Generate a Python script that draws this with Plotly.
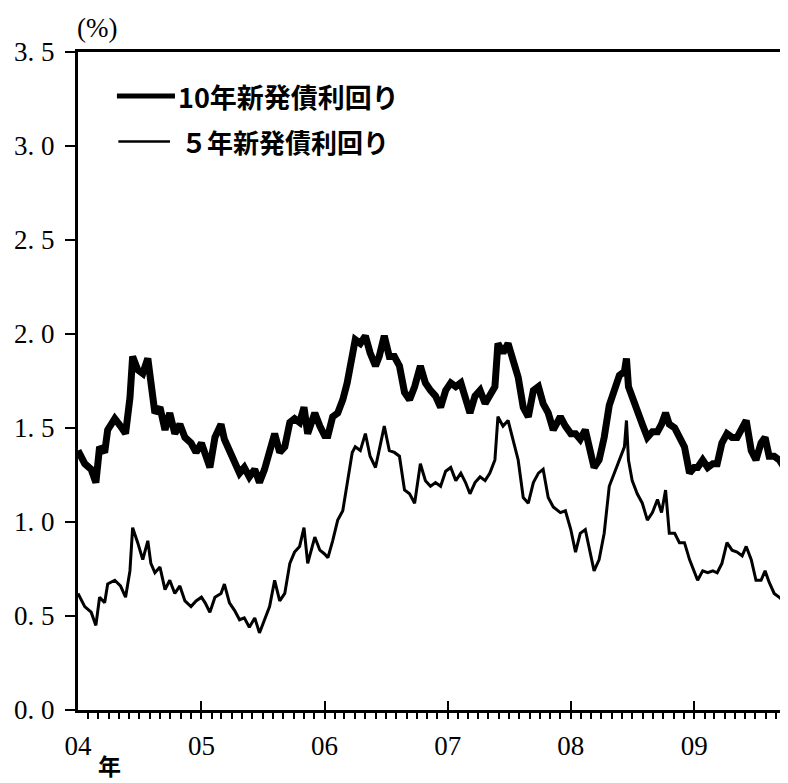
import plotly.graph_objects as go

# semi-monthly readings of the chart (JGB yields, %)
dates = [
    "2004-01-01", "2004-01-21", "2004-02-09", "2004-02-23", "2004-03-05", "2004-03-20",
    "2004-03-29", "2004-04-19", "2004-05-06", "2004-05-21", "2004-06-03", "2004-06-11",
    "2004-06-26", "2004-07-11", "2004-07-26", "2004-08-04", "2004-08-16", "2004-08-31",
    "2004-09-15", "2004-09-29", "2004-10-14", "2004-10-29", "2004-11-13", "2004-12-01",
    "2004-12-16",
    "2005-01-01", "2005-01-12", "2005-01-26", "2005-02-10", "2005-02-28", "2005-03-10",
    "2005-03-25", "2005-04-09", "2005-04-24", "2005-05-08", "2005-05-23", "2005-06-08",
    "2005-06-22", "2005-07-07", "2005-07-22", "2005-08-06", "2005-08-21", "2005-09-05",
    "2005-09-20", "2005-10-04", "2005-10-19", "2005-11-01", "2005-11-12", "2005-12-03",
    "2005-12-18",
    "2006-01-01", "2006-01-11", "2006-01-25", "2006-02-09", "2006-02-24", "2006-03-09",
    "2006-03-24", "2006-04-02", "2006-04-17", "2006-05-02", "2006-05-16", "2006-06-01",
    "2006-06-12", "2006-06-27", "2006-07-12", "2006-07-27", "2006-08-11", "2006-08-26",
    "2006-09-10", "2006-09-25", "2006-10-12", "2006-10-27", "2006-11-11", "2006-11-26",
    "2006-12-11", "2006-12-26",
    "2007-01-10", "2007-01-25", "2007-02-09", "2007-02-23", "2007-03-08", "2007-03-23",
    "2007-04-07", "2007-04-22", "2007-05-06", "2007-05-21", "2007-05-30", "2007-06-14",
    "2007-06-29", "2007-07-14", "2007-07-29", "2007-08-13", "2007-08-28", "2007-09-12",
    "2007-09-27", "2007-10-11", "2007-10-26", "2007-11-10", "2007-12-01", "2007-12-16",
    "2008-01-01", "2008-01-15", "2008-01-29", "2008-02-13", "2008-02-28", "2008-03-10",
    "2008-03-25", "2008-04-09", "2008-04-24", "2008-05-09", "2008-05-24", "2008-06-08",
    "2008-06-14", "2008-06-20", "2008-07-01", "2008-07-16", "2008-07-31", "2008-08-15",
    "2008-08-30", "2008-09-14", "2008-09-26", "2008-10-08", "2008-10-19", "2008-11-04",
    "2008-11-18", "2008-12-03", "2008-12-18",
    "2009-01-01", "2009-01-11", "2009-01-26", "2009-02-10", "2009-02-25", "2009-03-10",
    "2009-03-24", "2009-04-08", "2009-04-23", "2009-05-08", "2009-05-23", "2009-06-04",
    "2009-06-19", "2009-07-03", "2009-07-18", "2009-07-30", "2009-08-11", "2009-08-26",
    "2009-09-10", "2009-09-28",
]

yield_10y = [
    1.38, 1.31, 1.28, 1.21, 1.40, 1.37, 1.49, 1.55, 1.51, 1.47, 1.66, 1.88,
    1.81, 1.79, 1.87, 1.72, 1.58, 1.61, 1.49, 1.58, 1.47, 1.52, 1.45, 1.42,
    1.37,
    1.42, 1.37, 1.29, 1.45, 1.52, 1.44, 1.38, 1.33, 1.26, 1.29, 1.24, 1.28,
    1.21, 1.28, 1.37, 1.47, 1.37, 1.40, 1.53, 1.55, 1.53, 1.61, 1.47, 1.58,
    1.51,
    1.46, 1.46, 1.56, 1.58, 1.65, 1.74, 1.88, 1.97, 1.95, 1.99, 1.90, 1.83,
    1.88, 1.99, 1.88, 1.88, 1.83, 1.69, 1.65, 1.72, 1.83, 1.74, 1.70, 1.67,
    1.61, 1.70,
    1.74, 1.72, 1.74, 1.65, 1.58, 1.67, 1.70, 1.63, 1.67, 1.72, 1.95, 1.90,
    1.95, 1.86, 1.77, 1.61, 1.56, 1.70, 1.72, 1.63, 1.58, 1.49, 1.56, 1.51,
    1.47, 1.47, 1.44, 1.49, 1.38, 1.29, 1.33, 1.45, 1.62, 1.70, 1.78, 1.80,
    1.87, 1.72, 1.66, 1.60, 1.52, 1.45, 1.48, 1.48, 1.52, 1.58, 1.52, 1.50,
    1.45, 1.40, 1.26,
    1.29, 1.29, 1.33, 1.29, 1.31, 1.31, 1.42, 1.47, 1.45, 1.45, 1.51, 1.54,
    1.38, 1.33, 1.42, 1.45, 1.35, 1.35, 1.33, 1.28,
]

yield_5y = [
    0.62, 0.55, 0.52, 0.45, 0.60, 0.57, 0.67, 0.69, 0.66, 0.60, 0.74, 0.97,
    0.89, 0.80, 0.90, 0.78, 0.73, 0.76, 0.64, 0.69, 0.62, 0.66, 0.58, 0.55,
    0.58,
    0.60, 0.57, 0.52, 0.60, 0.62, 0.67, 0.57, 0.53, 0.48, 0.49, 0.44, 0.49,
    0.41, 0.48, 0.55, 0.69, 0.58, 0.62, 0.78, 0.84, 0.87, 0.97, 0.78, 0.92,
    0.85,
    0.83, 0.81, 0.90, 1.01, 1.06, 1.21, 1.37, 1.40, 1.38, 1.47, 1.35, 1.29,
    1.38, 1.51, 1.38, 1.37, 1.35, 1.17, 1.15, 1.10, 1.31, 1.22, 1.19, 1.21,
    1.19, 1.27,
    1.29, 1.22, 1.26, 1.21, 1.15, 1.21, 1.24, 1.22, 1.26, 1.33, 1.56, 1.51,
    1.54, 1.44, 1.33, 1.13, 1.10, 1.21, 1.26, 1.28, 1.13, 1.08, 1.05, 1.06,
    0.96, 0.84, 0.94, 0.96, 0.84, 0.74, 0.80, 0.94, 1.19, 1.26, 1.33, 1.40,
    1.54, 1.33, 1.22, 1.15, 1.10, 1.01, 1.05, 1.12, 1.05, 1.17, 0.94, 0.94,
    0.89, 0.89, 0.80,
    0.73, 0.69, 0.74, 0.73, 0.74, 0.73, 0.78, 0.89, 0.85, 0.84, 0.82, 0.87,
    0.80, 0.69, 0.69, 0.74, 0.68, 0.62, 0.60, 0.57,
]

y_ticks = [0, 0.5, 1.0, 1.5, 2.0, 2.5, 3.0, 3.5]
y_labels = ["0. 0", "0. 5", "1. 0", "1. 5", "2. 0", "2. 5", "3. 0", "3. 5"]
year_ticks = ["2004-01-01", "2005-01-01", "2006-01-01", "2007-01-01", "2008-01-01", "2009-01-01"]
year_labels = ["04", "05", "06", "07", "08", "09"]

serif = "Liberation Serif"
jp = "Noto Sans CJK JP"

fig = go.Figure()
fig.add_trace(go.Scatter(x=dates, y=yield_5y, mode="lines", name="5年新発債利回り",
                         line=dict(color="black", width=3)))
fig.add_trace(go.Scatter(x=dates, y=yield_10y, mode="lines", name="10年新発債利回り",
                         line=dict(color="black", width=7)))

fig.update_xaxes(
    range=["2004-01-01", "2009-09-30"],
    tickvals=year_ticks, ticktext=year_labels,
    ticks="inside", ticklen=9, tickwidth=2, tickcolor="black",
    minor=dict(ticks="outside", dtick="M1", tick0="2004-01-01", ticklen=6, tickwidth=2, tickcolor="black"),
    showline=True, linewidth=3, linecolor="black", mirror=True,
    showgrid=False, zeroline=False,
    tickfont=dict(family=serif, size=27, color="black"),
    ticklabelstandoff=10,
)
fig.update_yaxes(
    range=[0, 3.5],
    tickvals=y_ticks, ticktext=y_labels,
    ticks="outside", ticklen=10, tickwidth=2, tickcolor="black",
    showline=True, linewidth=3, linecolor="black",
    showgrid=False, zeroline=False,
    tickfont=dict(family=serif, size=27, color="black"),
    ticklabelstandoff=5,
)

# right border (faint) and legend drawn by hand
fig.add_shape(type="line", xref="paper", yref="paper", x0=1, x1=1, y0=0, y1=1,
              line=dict(color="#999999", width=1, dash="dot"))
fig.add_shape(type="line", xref="paper", yref="paper", x0=0.055, x1=0.137, y0=0.933, y1=0.933,
              line=dict(color="black", width=5))
fig.add_shape(type="line", xref="paper", yref="paper", x0=0.057, x1=0.130, y0=0.864, y1=0.864,
              line=dict(color="black", width=2.5))
fig.add_annotation(xref="paper", yref="paper", x=0.139, y=0.933, text="10年新発債利回り",
                   showarrow=False, xanchor="left", yanchor="middle",
                   font=dict(family=jp, size=27, color="black", weight="bold"))
fig.add_annotation(xref="paper", yref="paper", x=0.143, y=0.864, text="５年新発債利回り",
                   showarrow=False, xanchor="left", yanchor="middle",
                   font=dict(family=jp, size=26, color="black", weight="bold"))
fig.add_annotation(xref="paper", yref="paper", x=0.027, y=1.036, text="(%)",
                   showarrow=False, xanchor="center", yanchor="middle",
                   font=dict(family=serif, size=27, color="black"))
fig.add_annotation(xref="paper", yref="paper", x=0.045, y=-0.084, text="年",
                   showarrow=False, xanchor="center", yanchor="middle",
                   font=dict(family=jp, size=23, color="black", weight="bold"))

# the page body adds an 8px offset, so the figure is sized to the visible area
fig.update_layout(
    width=780, height=775,
    margin=dict(l=70, r=2, t=44, b=73),
    paper_bgcolor="white", plot_bgcolor="white",
    showlegend=False,
)

fig.write_html("out.html")
